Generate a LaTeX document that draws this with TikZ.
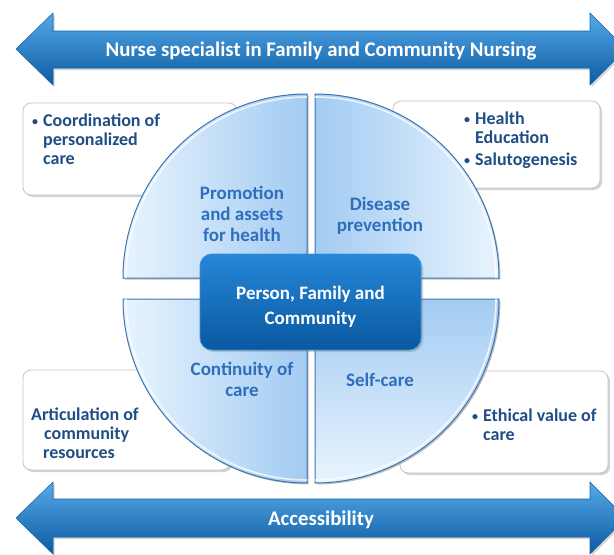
\documentclass[tikz,border=0pt]{standalone}
\usepackage{fontspec}
\setmainfont{Carlito}
\usetikzlibrary{shadows}

\definecolor{arrowlight}{HTML}{55AAE8}
\definecolor{arrowmid}{HTML}{1A7ACB}
\definecolor{arrowdark}{HTML}{0D5AA2}
\definecolor{arrowedge}{HTML}{1666AE}
\definecolor{boxedge}{HTML}{C4C4C4}
\definecolor{boxtext}{HTML}{1F4E85}
\definecolor{quadtext}{HTML}{2E6FBC}
\definecolor{quadedge}{HTML}{3E74AE}
\definecolor{qpale}{HTML}{E8F4FE}
\definecolor{qdeep}{HTML}{A3CBF2}
\definecolor{coretop}{HTML}{2687D8}
\definecolor{corebottom}{HTML}{0A58A0}
\definecolor{coreedge}{HTML}{3A8CD6}

% small list bullet followed by a fixed indent
\newcommand{\listdot}[1]{\makebox[#1][l]{\hspace*{1pt}{\fontsize{12}{12}\selectfont\raisebox{1pt}{•}}}}

\tikzset{
  bigarrow/.style={top color=arrowlight, middle color=arrowmid, bottom color=arrowdark,
    draw=arrowedge, line width=0.6pt,
    drop shadow={shadow xshift=1.5pt, shadow yshift=-2pt, opacity=0.35}},
  arrowlabel/.style={text=white, font=\bfseries\fontsize{20.8}{24}\selectfont, inner sep=0pt},
  sidebox/.style={draw=boxedge, line width=0.8pt, fill=white, rounded corners=8pt,
    drop shadow={shadow xshift=2pt, shadow yshift=-2pt, opacity=0.35}},
  boxlabel/.style={text=boxtext, font=\bfseries\fontsize{18}{19}\selectfont, align=left, inner sep=0pt},
  quad/.style={draw=quadedge, line width=1pt,
    drop shadow={shadow xshift=1.5pt, shadow yshift=-1.5pt, opacity=0.5}},
  quadshine/.style={draw=white, line width=1.6pt, opacity=0.75},
  quadlabel/.style={text=quadtext, font=\bfseries\fontsize{19}{21}\selectfont, align=center, inner sep=0pt},
  corebox/.style={top color=coretop, bottom color=corebottom, draw=coreedge, line width=0.8pt,
    rounded corners=12pt, minimum width=221pt, minimum height=96pt,
    drop shadow={shadow xshift=2pt, shadow yshift=-2pt, opacity=0.35}},
  corelabel/.style={text=white, font=\bfseries\fontsize{19}{25}\selectfont, align=center, inner sep=0pt}
}

\begin{document}
\begin{tikzpicture}[x=1pt, y=-1pt]
\useasboundingbox (0,0) rectangle (614,555);

% double-headed banner arrows
\path[bigarrow] (16,49) -- (53,13) -- (53,31) -- (590,31) -- (590,13) -- (626,49)
  -- (590,85) -- (590,68) -- (53,68) -- (53,85) -- cycle;
\node[arrowlabel, anchor=base] (role) at (321,56.3) {Nurse specialist in Family and Community Nursing};

\path[bigarrow] (16,518) -- (53,482) -- (53,499) -- (590,499) -- (590,482) -- (626,518)
  -- (590,554) -- (590,537) -- (53,537) -- (53,554) -- cycle;
\node[arrowlabel, anchor=base] (access) at (321,525.3) {Accessibility};

% corner boxes, partly hidden behind the circle
\node[sidebox, minimum width=214pt, minimum height=92pt] (tlbox) at (130,149) {};
\node[sidebox, minimum width=207pt, minimum height=87pt] (trbox) at (496.5,144.5) {};
\node[sidebox, minimum width=207pt, minimum height=100pt] (blbox) at (126.5,420) {};
\node[sidebox, minimum width=208pt, minimum height=102pt] (brbox) at (504,422) {};

\node[boxlabel, anchor=north west] (tltext) at (31,114)
  {\listdot{12pt}Coordination of\\\hspace*{12pt}personalized\\\hspace*{12pt}care};
\node[boxlabel, anchor=north west] (trtext) at (463,112)
  {\listdot{12pt}Health\\\hspace*{12pt}Education\\[3pt]\listdot{12pt}Salutogenesis};
\node[boxlabel, anchor=north west] (bltext) at (31,408)
  {Articulation of\\\hspace*{13pt}community\\\hspace*{12pt}resources};
\node[boxlabel, anchor=north west] (brtext) at (471,409)
  {\listdot{12pt}Ethical value of\\\hspace*{12pt}care};

% four quarter discs
\path[quad, left color=qpale, right color=qdeep]
  (307,278) -- (123,278) arc[start angle=180, end angle=270, radius=184] -- cycle;
\path[quad, left color=qdeep, right color=qpale]
  (315,278) -- (315,94) arc[start angle=270, end angle=360, radius=184] -- cycle;
\path[quad, left color=qpale, right color=qdeep]
  (307,299) -- (123,299) arc[start angle=180, end angle=90, radius=184] -- cycle;
\path[quad, top color=qdeep, bottom color=qpale]
  (315,299) -- (499,299) arc[start angle=0, end angle=90, radius=184] -- cycle;

\draw[quadshine] (126,278) arc[start angle=180, end angle=270, radius=181];
\draw[quadshine] (315,97) arc[start angle=270, end angle=360, radius=181];
\draw[quadshine] (126,299) arc[start angle=180, end angle=90, radius=181];
\draw[quadshine] (496,299) arc[start angle=0, end angle=90, radius=181];

\node[quadlabel, anchor=north] (promo) at (242,185.7) {Promotion\\and assets\\for health};
\node[quadlabel, anchor=north] (prevent) at (380,196.7) {Disease\\prevention};
\node[quadlabel, anchor=north] (contin) at (242,361.7) {Continuity of\\care};
\node[quadlabel, anchor=north] (selfcare) at (380,372.7) {Self-care};

% centre
\node[corebox] (core) at (310.5,302) {};
\node[corelabel, anchor=north] (coretext) at (310.5,285.7) {Person, Family and\\Community};
\end{tikzpicture}
\end{document}
